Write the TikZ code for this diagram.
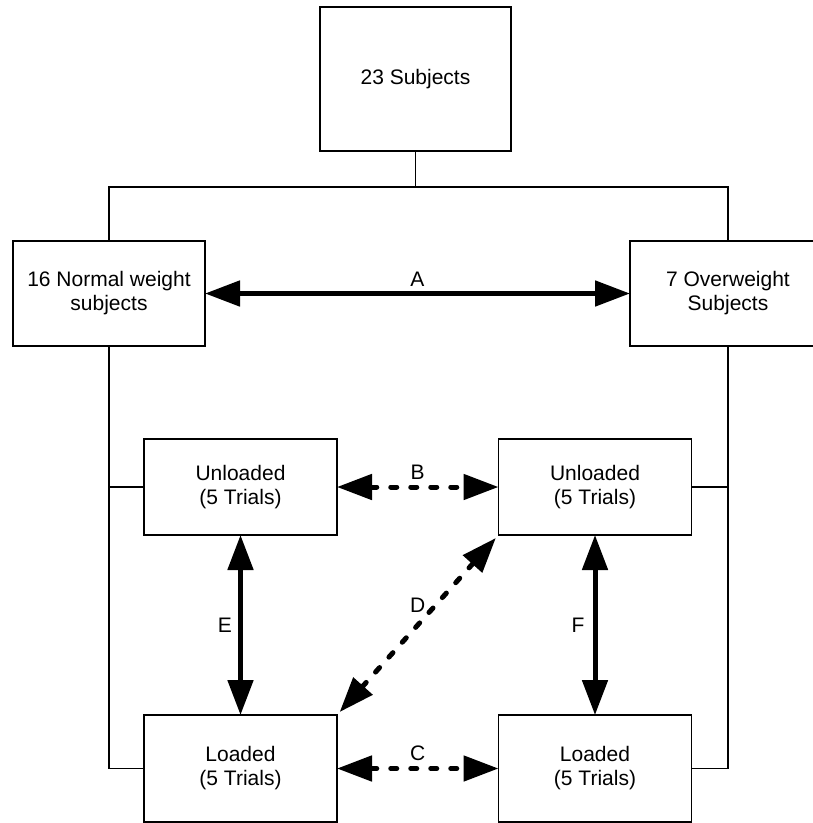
\documentclass[tikz,border=0pt]{standalone}
\usepackage{fontspec}
\setmainfont{Liberation Sans}
\usetikzlibrary{positioning, arrows.meta}

\tikzset{
  groupbox/.style={draw, line width=1.5pt, align=center, inner sep=0pt,
                   outer sep=0pt, font=\fontsize{21}{24}\selectfont},
  trialbox/.style={groupbox, minimum width=193pt},
  pairarrow/.style={line width=5pt,
                    {Triangle[length=35pt,width=25pt]}-{Triangle[length=35pt,width=25pt]}},
  pairdashed/.style={pairarrow, dash pattern=on 6pt off 14pt, line cap=round},
  arrowlabel/.style={font=\fontsize{21}{24}\selectfont, fill=white, inner sep=1pt}
}

\begin{document}
\begin{tikzpicture}[x=1pt, y=-1pt]
  \clip (0,0) rectangle (813,823);

  % subject groups
  \node[groupbox, minimum width=191pt, minimum height=144pt]
        (total) at (415.5,79) {23 Subjects};
  \node[groupbox, minimum width=192pt, minimum height=105pt]
        (normal) at (109,293.5) {16 Normal weight\\subjects};
  \node[groupbox, minimum width=196pt, minimum height=105pt]
        (over) at (728,293.5) {7 Overweight\\Subjects};

  % trial conditions
  \node[trialbox, minimum height=96pt] (unlN) at (240.5,487) {Unloaded\\(5 Trials)};
  \node[trialbox, minimum height=96pt] (unlO) at (595,487) {Unloaded\\(5 Trials)};
  \node[trialbox, minimum height=107pt] (loadN) at (240.5,768.5) {Loaded\\(5 Trials)};
  \node[trialbox, minimum height=107pt] (loadO) at (595,768.5) {Loaded\\(5 Trials)};

  % tree lines
  \coordinate (split) at (415.5,187);
  \draw[line width=1.5pt] (total.south) -- (split);
  \draw[line width=1.5pt] (normal.north) |- (split) -| (over.north);
  \draw[line width=1.5pt] (normal.south) |- (loadN.west);
  \draw[line width=1.5pt] (unlN.west) -- (unlN.west -| normal.south);
  \draw[line width=1.5pt] (over.south) |- (loadO.east);
  \draw[line width=1.5pt] (unlO.east) -- (unlO.east -| over.south);

  % comparisons
  \draw[pairarrow] (normal.east) -- node[arrowlabel, above=4pt] {A} (over.west);
  \draw[pairdashed] (unlN.east) -- node[arrowlabel, above=4pt] {B} (unlO.west);
  \draw[pairdashed] (loadN.east) -- node[arrowlabel, above=4pt] {C} (loadO.west);
  \draw[pairdashed, shorten <=4pt, shorten >=4pt]
        (loadN.north east) -- node[arrowlabel, yshift=20pt] {D} (unlO.south west);
  \draw[pairarrow] (unlN.south) -- node[arrowlabel, left=5pt] {E} (loadN.north);
  \draw[pairarrow] (unlO.south) -- node[arrowlabel, left=7pt] {F} (loadO.north);
\end{tikzpicture}
\end{document}
